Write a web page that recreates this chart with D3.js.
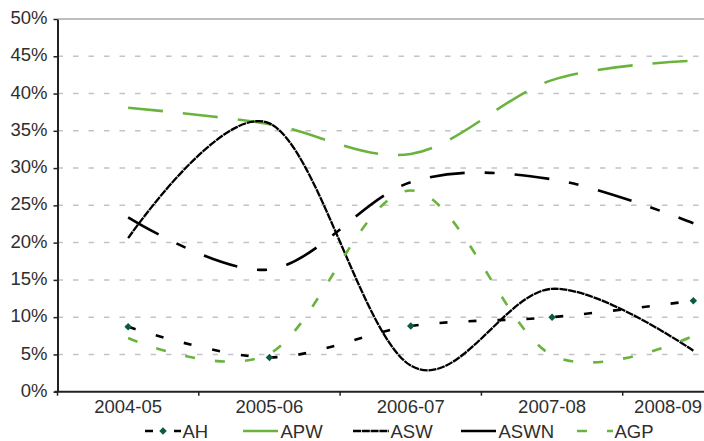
<!DOCTYPE html>
<html>
<head>
<meta charset="utf-8">
<script src="https://cdn.jsdelivr.net/npm/d3@7"></script>
<style>
  body { margin: 0; background: #fff; }
  text { font-family: "Liberation Sans", Arial, sans-serif; fill: #2e2e2e; }
</style>
</head>
<body>
<script>
// categories and series values (%)
var years = ["2004-05", "2005-06", "2006-07", "2007-08", "2008-09"];
var yTicks = [0, 5, 10, 15, 20, 25, 30, 35, 40, 45, 50];

var AH   = [8.7, 4.6, 8.8, 10.0, 12.2];
var APW  = [38.1, 35.9, 31.9, 41.8, 44.4];
var ASW  = [20.6, 36.0, 3.5, 13.8, 5.5];
var ASWN = [23.4, 16.4, 28.1, 28.5, 22.6];
var AGP  = [7.2, 5.1, 27.0, 4.9, 7.5];

var green = "#6ab43e";

var series = [
  {name: "AH",   values: AH,   color: "#000", dash: "8,21",          width: 2.6, marker: true},
  {name: "APW",  values: APW,  color: green,  dash: "35,20",         width: 2.6},
  {name: "ASW",  values: ASW,  color: "#000", dash: "8,0.8",         width: 2.3},
  {name: "ASWN", values: ASWN, color: "#000", dash: "35,20,10,20",   width: 2.6},
  {name: "AGP",  values: AGP,  color: green,  dash: "10,20",         width: 2.6}
];

var svg = d3.select("body").append("svg")
  .attr("width", 704)
  .attr("height", 441);

var margin = {left: 57.5, top: 19};
var plotRight = 764;     // plot area runs past the picture edge
var plotBottom = 391.7;

var x = d3.scaleBand().domain(years).range([margin.left, plotRight]);
var y = d3.scaleLinear().domain([0, 50]).range([plotBottom, margin.top]);
var cx = function(i) { return x(years[i]) + x.bandwidth() / 2; };

// gridlines
svg.append("g").selectAll("line")
  .data(yTicks.filter(function(d) { return d > 0; }))
  .enter().append("line")
  .attr("x1", margin.left).attr("x2", plotRight)
  .attr("y1", function(d) { return y(d); })
  .attr("y2", function(d) { return y(d); })
  .attr("stroke", function(d) { return d == 50 ? "#a8a8a8" : "#c4c4c4"; })
  .attr("stroke-width", 1.5)
  .attr("stroke-dasharray", function(d) { return d == 50 ? null : "5.5,10"; });

// y axis
var yAxis = svg.append("g")
  .attr("transform", "translate(" + margin.left + ",0)")
  .call(d3.axisLeft(y).tickValues(yTicks).tickSize(4).tickSizeOuter(0).tickPadding(6)
    .tickFormat(function(d) { return d + "%"; }));
yAxis.select(".domain").attr("stroke", "#222").attr("stroke-width", 2);
yAxis.selectAll(".tick line").attr("stroke", "#222").attr("stroke-width", 1.5);
yAxis.selectAll(".tick text")
  .style("font-size", "18.5px").attr("dy", "0.25em")
  .style("font-family", "Liberation Sans, Arial, sans-serif").attr("fill", "#2e2e2e");

// x axis
var xg = svg.append("g");
xg.append("line")
  .attr("x1", margin.left - 3).attr("x2", plotRight)
  .attr("y1", plotBottom).attr("y2", plotBottom)
  .attr("stroke", "#222").attr("stroke-width", 2);
xg.selectAll(".xt").data(d3.range(years.length + 1)).enter().append("line")
  .attr("x1", function(i) { return margin.left + i * x.step(); })
  .attr("x2", function(i) { return margin.left + i * x.step(); })
  .attr("y1", plotBottom).attr("y2", plotBottom + 4)
  .attr("stroke", "#222").attr("stroke-width", 1.5);
xg.selectAll(".xl").data(years).enter().append("text")
  .attr("class", "xl")
  .attr("x", function(d, i) { return cx(i); })
  .attr("y", 412.7)
  .attr("text-anchor", "middle")
  .style("font-size", "18.5px")
  .text(function(d) { return d; })
  .each(function() {
    // keep the last label inside the picture, as the original does
    var b = this.getBBox();
    if (b.x + b.width > 702) d3.select(this).attr("x", +d3.select(this).attr("x") - (b.x + b.width - 702));
  });

// lines
var line = d3.line()
  .x(function(d, i) { return cx(i); })
  .y(function(d) { return y(d); })
  .curve(d3.curveCatmullRom.alpha(0));

series.forEach(function(s) {
  svg.append("path")
    .datum(s.values)
    .attr("d", line)
    .attr("fill", "none")
    .attr("stroke", s.color)
    .attr("stroke-width", s.width)
    .attr("stroke-dasharray", s.dash);
  if (s.marker) {
    svg.append("g").selectAll("path").data(s.values).enter().append("path")
      .attr("d", d3.symbol().type(d3.symbolSquare).size(28))
      .attr("transform", function(d, i) { return "translate(" + cx(i) + "," + y(d) + ") rotate(45)"; })
      .attr("fill", "#0b5c3c");
  }
});

// legend
var legendX = [145, 243, 353, 461, 577];
var legendY = 431;
var lg = svg.append("g");
series.forEach(function(s, i) {
  var x0 = legendX[i];
  lg.append("line")
    .attr("x1", x0).attr("x2", x0 + 36)
    .attr("y1", legendY).attr("y2", legendY)
    .attr("stroke", s.color).attr("stroke-width", s.width)
    .attr("stroke-dasharray", s.dash);
  if (s.marker) {
    lg.append("path")
      .attr("d", d3.symbol().type(d3.symbolSquare).size(28))
      .attr("transform", "translate(" + (x0 + 18) + "," + legendY + ") rotate(45)")
      .attr("fill", "#0b5c3c");
  }
  lg.append("text")
    .attr("x", x0 + 37.5)
    .attr("y", legendY + 6.5)
    .style("font-size", "18.5px")
    .text(s.name);
});
</script>
</body>
</html>
